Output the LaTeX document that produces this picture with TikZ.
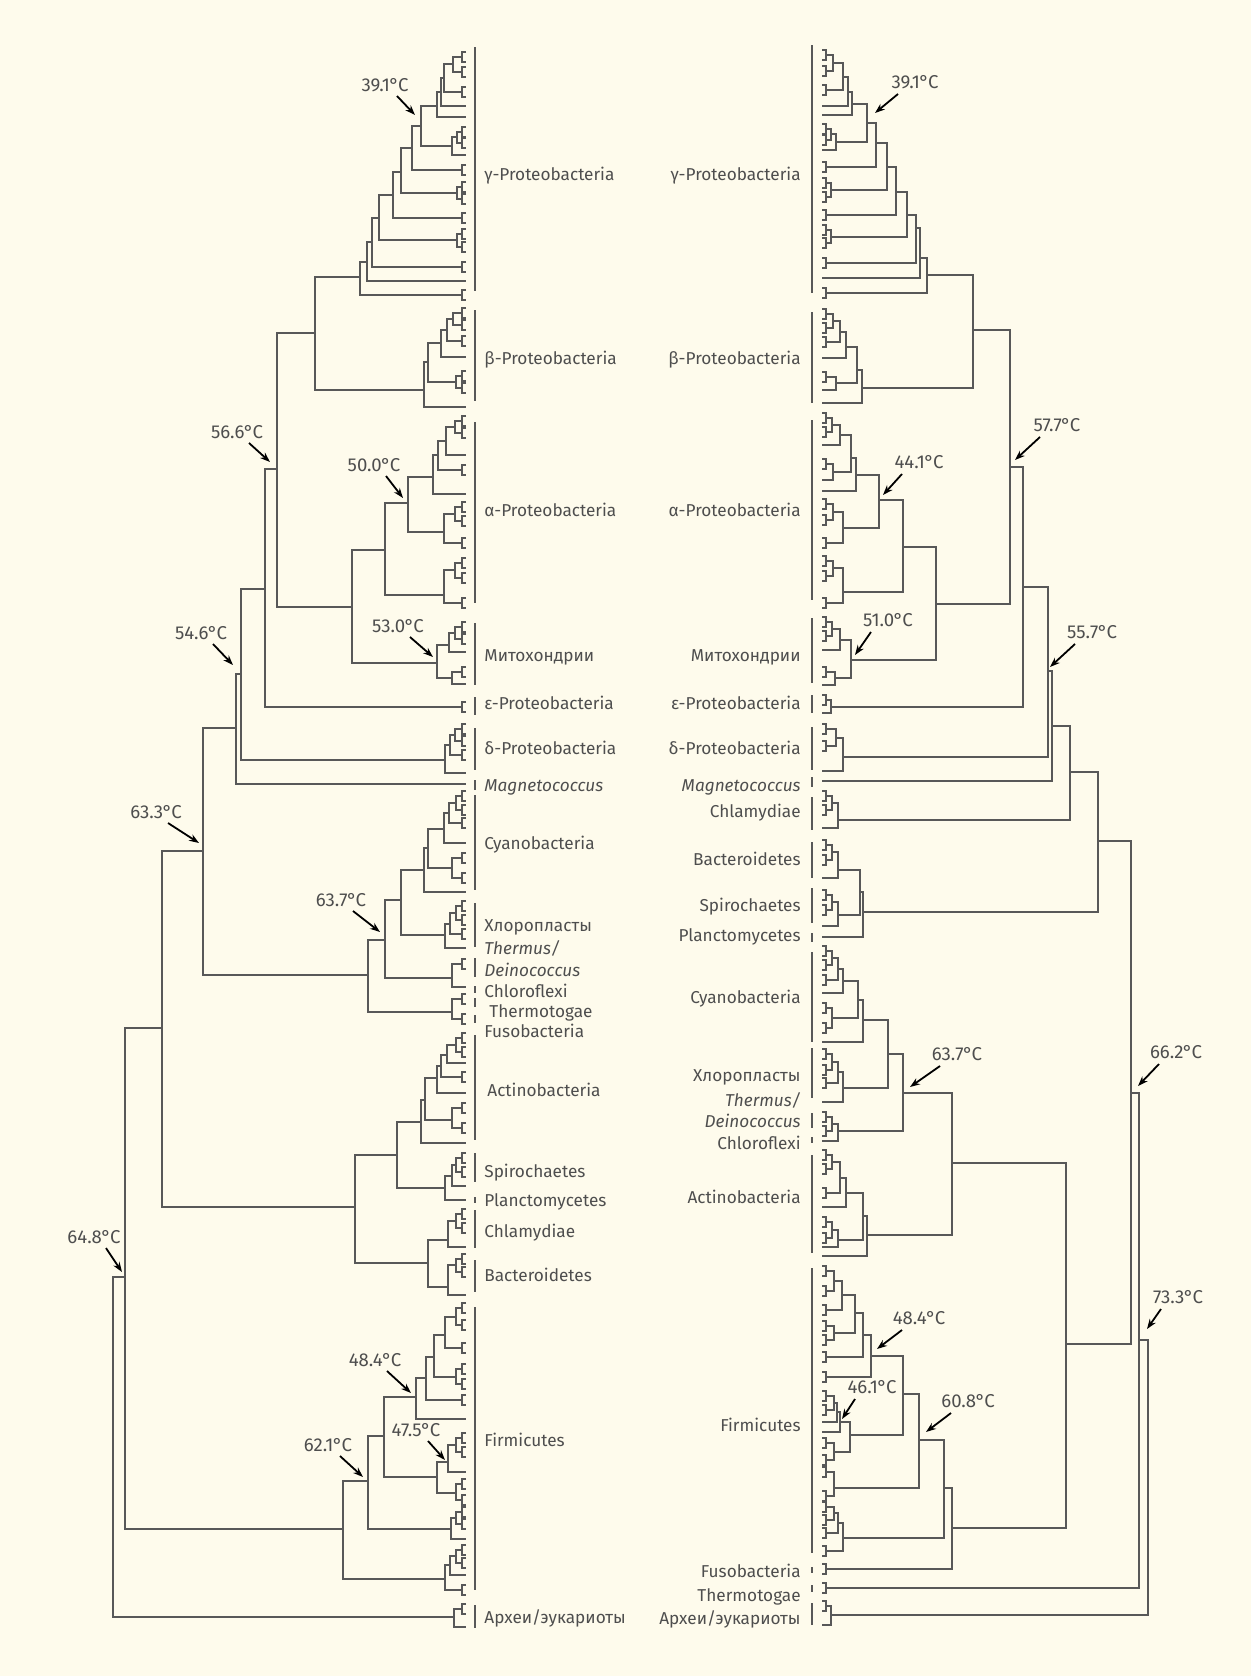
\documentclass[tikz,border=0pt]{standalone}
\usepackage{fontspec}
\setmainfont{Fira Sans}
\usepackage{tikz}
\usetikzlibrary{arrows.meta}
\definecolor{paper}{RGB}{254,251,236}
\definecolor{treeline}{RGB}{88,88,88}
\definecolor{inkgray}{RGB}{78,78,78}
\newcommand{\degc}{\kern-0.3pt°\kern-0.5pt C}

\begin{document}
\begin{tikzpicture}[x=0.5pt, y=-0.5pt, font=\fontsize{8.6}{10}\selectfont,
  >={Stealth[length=5pt,width=3.6pt]},
  branch/.style={draw=treeline, line width=0.7pt},
  leaf/.style={draw=treeline, line width=0.6pt},
  groupbar/.style={draw=treeline, line width=0.9pt},
  taxon/.style={text=inkgray, inner sep=0pt, text height=6.2pt, text depth=1.8pt},
  temp/.style={text=inkgray, inner sep=1pt, font=\fontsize{9.3}{11}\selectfont},
  tarrow/.style={->, draw=black, line width=0.9pt}]
  \fill[paper] (0,0) rectangle (1251,1676);
  \useasboundingbox (0,0) rectangle (1251,1676);

  % left tree: forks, parent x / child1 x / child1 y / child2 x / child2 y
  % gamma, beta
  \foreach \p/\a/\ya/\b/\yb in {453/462/57/462/72, 444/453/64/462/92, 441/444/78/466/106,
      437/441/92/466/117, 457/462/132/462/143, 452/457/137/466/155, 421/437/106/452/146,
      412/421/126/462/170, 457/462/187/462/199, 401/412/148/457/193, 393/401/172/462/218,
      457/462/234/462/247, 379/393/195/457/240, 372/379/218/462/267, 367/372/242/466/281,
      360/367/262/462/295, 453/462/313/462/325, 447/453/319/462/341, 441/447/330/466/357,
      456/462/376/462/388, 428/441/343/456/382, 424/428/362/466/407}
    \draw[branch] (\a,\ya) -| (\p,\yb) -- (\b,\yb);
  % backbone
  \foreach \p/\a/\ya/\b/\yb in {315/360/277/424/390, 277/315/333/352/607, 265/277/469/462/707,
      241/265/589/445/760, 236/241/674/466/784, 203/236/728/368/975, 162/203/851/355/1207,
      125/162/1028/343/1529, 113/125/1277/454/1617}
    \draw[branch] (\a,\ya) -| (\p,\yb) -- (\b,\yb);
  % alpha, mitochondria, delta
  \foreach \p/\a/\ya/\b/\yb in {352/385/550/437/663, 385/408/503/444/595, 408/433/477/444/532,
      455/462/421/462/433, 446/455/427/466/455, 438/446/441/462/470, 433/438/455/466/494,
      455/462/507/462/521, 444/455/514/462/543, 455/462/563/462/578, 444/455/570/462/603,
      455/462/627/462/639, 449/455/633/466/652, 452/462/672/466/684, 437/449/645/452/678,
      455/462/729/462/741, 450/455/735/462/755, 445/450/745/466/773}
    \draw[branch] (\a,\ya) -| (\p,\yb) -- (\b,\yb);
  % cyanobacteria, chloroplasts, thermus, thermotogae
  \foreach \p/\a/\ya/\b/\yb in {368/385/940/452/1012, 385/401/900/452/978, 401/424/870/445/935,
      456/462/796/462/810, 449/456/803/462/823, 444/449/813/466/843, 452/462/858/462/878,
      428/444/829/452/868, 424/428/848/466/892, 456/462/906/462/920, 450/456/913/462/934,
      445/450/924/466/948, 452/462/964/466/987, 452/462/999/462/1019}
    \draw[branch] (\a,\ya) -| (\p,\yb) -- (\b,\yb);
  % actinobacteria, spirochaetes, chlamydiae, bacteroidetes
  \foreach \p/\a/\ya/\b/\yb in {355/397/1155/428/1263, 397/421/1122/445/1188,
      456/462/1038/462/1052, 447/456/1045/466/1063, 441/447/1055/462/1077, 437/441/1066/466/1093,
      452/462/1108/462/1128, 425/437/1078/452/1120, 421/425/1100/466/1143,
      456/462/1158/462/1172, 452/456/1165/466/1186, 445/452/1176/466/1200,
      428/448/1240/448/1287, 456/462/1214/462/1228, 448/456/1221/466/1247,
      456/462/1259/462/1272, 448/456/1265/466/1295}
    \draw[branch] (\a,\ya) -| (\p,\yb) -- (\b,\yb);
  % firmicutes, archaea
  \foreach \p/\a/\ya/\b/\yb in {343/368/1481/445/1579, 368/384/1436/451/1529,
      456/462/1512/462/1524, 451/456/1518/466/1539, 384/416/1397/437/1477,
      456/462/1308/462/1325, 445/456/1317/462/1348, 456/462/1369/462/1384, 434/445/1335/456/1377,
      426/434/1357/462/1400, 416/426/1378/466/1419, 456/462/1438/462/1452, 448/456/1445/466/1472,
      456/462/1484/462/1500, 437/448/1462/456/1493, 456/462/1550/462/1563, 450/456/1556/466/1575,
      445/450/1565/462/1590, 454/462/1609/466/1627}
    \draw[branch] (\a,\ya) -| (\p,\yb) -- (\b,\yb);
  % left leaf brackets
  \foreach \y in {57,72,92,132,143,170,187,199,218,234,247,267,295,313,325,341,376,388,
      421,433,470,507,521,543,563,578,603,627,639,672,707,729,741,755,796,810,823,858,878,
      906,920,934,964,999,1019,1038,1052,1077,1108,1128,1158,1172,1214,1228,1259,1272,
      1308,1325,1348,1369,1384,1400,1438,1452,1484,1500,1512,1524,1550,1563,1590,1609}
    \draw[leaf] (466,\y-5) -| (462,\y+5) -- (466,\y+5);
  % left group bars
  \foreach \a/\b in {47/291, 310/401, 422/603, 623/685, 697/715, 728/770, 780/790, 795/890,
      903/947, 958/977, 986/993, 998/1007, 1015/1023, 1035/1140, 1153/1182, 1197/1203,
      1210/1248, 1260/1292, 1307/1590, 1605/1628}
    \draw[groupbar] (475,\a) -- (475,\b);

  % right tree: gamma, beta
  \foreach \p/\a/\ya/\b/\yb in {833/826/55/826/71, 843/833/63/826/90, 848/843/77/822/106,
      852/848/92/822/115, 831/826/129/826/140, 836/831/134/822/150, 867/852/104/836/142,
      876/867/123/826/167, 831/826/183/826/197, 887/876/143/831/190, 896/887/167/826/215,
      831/826/230/826/243, 907/896/192/831/237, 916/907/215/826/263, 920/916/228/822/278,
      927/920/258/826/293, 833/826/314/826/328, 840/833/321/826/342, 846/840/332/822/358,
      836/826/377/822/390, 857/846/347/836/383, 862/857/370/822/403}
    \draw[branch] (\a,\ya) -| (\p,\yb) -- (\b,\yb);
  % backbone
  \foreach \p/\a/\ya/\b/\yb in {973/927/275/862/388, 1010/973/330/936/604, 1023/1010/467/831/707,
      1048/1023/587/843/757, 1052/1048/671/822/781, 1070/1052/726/838/820, 1098/1070/772/863/912,
      1131/1098/841/1066/1344, 1139/1131/1093/826/1588, 1148/1139/1340/831/1615,
      1066/952/1163/952/1528, 831/826/700/822/713, 831/826/1606/822/1625}
    \draw[branch] (\a,\ya) -| (\p,\yb) -- (\b,\yb);
  % alpha, mitochondria, delta
  \foreach \p/\a/\ya/\b/\yb in {936/903/547/851/660, 903/879/500/843/592, 879/856/475/843/528,
      832/826/418/826/432, 840/832/425/822/445, 833/826/464/822/480, 851/840/435/833/472,
      856/851/458/822/491, 833/826/504/826/520, 843/833/512/826/543, 833/826/561/826/576,
      843/833/568/826/603, 832/826/622/826/636, 840/832/629/822/650, 835/826/672/822/685,
      851/840/640/835/678, 836/826/729/826/746, 843/836/738/822/771}
    \draw[branch] (\a,\ya) -| (\p,\yb) -- (\b,\yb);
  % chlamydiae, bacteroidetes, spirochaetes, planctomycetes
  \foreach \p/\a/\ya/\b/\yb in {832/826/796/826/810, 838/832/803/822/828, 832/826/845/826/860,
      838/832/852/822/878, 832/826/895/826/910, 838/832/902/822/926, 860/838/870/838/915,
      863/860/892/822/937}
    \draw[branch] (\a,\ya) -| (\p,\yb) -- (\b,\yb);
  % cyanobacteria, chloroplasts, thermus, actinobacteria
  \foreach \p/\a/\ya/\b/\yb in {952/903/1093/867/1235, 903/888/1054/838/1131, 888/863/1020/843/1088,
      832/826/951/826/965, 838/832/958/826/980, 843/838/969/822/993, 832/826/1008/826/1028,
      858/843/981/832/1018, 863/858/1000/822/1042, 832/826/1054/826/1070, 838/832/1062/826/1083,
      843/838/1072/822/1102, 832/826/1117/826/1131, 838/832/1124/822/1141,
      832/826/1155/826/1169, 840/832/1162/826/1193, 846/840/1178/822/1207,
      832/826/1222/826/1238, 838/832/1230/822/1247, 863/846/1193/838/1240, 867/863/1216/822/1256}
    \draw[branch] (\a,\ya) -| (\p,\yb) -- (\b,\yb);
  % firmicutes, fusobacteria
  \foreach \p/\a/\ya/\b/\yb in {952/944/1488/826/1569, 944/919/1440/843/1538, 919/903/1394/834/1488,
      903/871/1356/850/1435, 834/826/1271/826/1291, 842/834/1281/826/1310, 834/826/1326/826/1340,
      855/842/1295/834/1333, 863/855/1313/826/1357, 871/863/1335/826/1377, 834/826/1396/826/1410,
      837/834/1403/822/1422, 840/837/1412/822/1432, 834/826/1443/826/1460, 850/840/1422/834/1452,
      834/826/1472/826/1496, 834/826/1507/826/1520, 838/834/1513/826/1533, 843/838/1523/826/1551}
    \draw[branch] (\a,\ya) -| (\p,\yb) -- (\b,\yb);
  % right leaf brackets
  \foreach \y in {55,71,90,129,140,167,183,197,215,230,243,263,293,314,328,342,377,
      418,432,464,504,520,543,561,576,603,622,636,672,700,729,746,796,810,845,860,895,910,
      951,965,980,1008,1028,1054,1070,1083,1117,1131,1155,1169,1193,1222,1238,
      1271,1291,1310,1326,1340,1357,1377,1396,1410,1443,1460,1472,1496,1507,1520,1533,1551,
      1569,1588,1606}
    \draw[leaf] (822,\y-5) -| (826,\y+5) -- (822,\y+5);
  % right group bars
  \foreach \a/\b in {45/293, 312/403, 420/600, 618/683, 695/713, 727/770, 777/787, 797/830,
      842/878, 888/923, 933/942, 952/1042, 1048/1098, 1113/1128, 1137/1143, 1155/1253,
      1268/1553, 1567/1573, 1585/1592, 1603/1625}
    \draw[groupbar] (812,\a) -- (812,\b);

  % left group names
  \node[taxon, anchor=west] (gamL) at (484,176) {γ-Proteobacteria};
  \node[taxon, anchor=west] (betL) at (484,360) {β-Proteobacteria};
  \node[taxon, anchor=west] (alpL) at (484,512) {α-Proteobacteria};
  \node[taxon, anchor=west] (mitL) at (484,657) {Митохондрии};
  \node[taxon, anchor=west] (epsL) at (484,705) {ε-Proteobacteria};
  \node[taxon, anchor=west] (delL) at (484,750) {δ-Proteobacteria};
  \node[taxon, anchor=west] (magL) at (484,787) {\itshape Magnetococcus};
  \node[taxon, anchor=west] (cyaL) at (484,845) {Cyanobacteria};
  \node[taxon, anchor=west] (chlL) at (484,927) {Хлоропласты};
  \node[taxon, anchor=west] (theL) at (484,950) {\itshape Thermus/};
  \node[taxon, anchor=west] (deiL) at (484,972) {\itshape Deinococcus};
  \node[taxon, anchor=west] (cflL) at (484,993) {Chloroflexi};
  \node[taxon, anchor=west] (tgaL) at (489,1013) {Thermotogae};
  \node[taxon, anchor=west] (fusL) at (484,1033) {Fusobacteria};
  \node[taxon, anchor=west] (actL) at (487,1092) {Actinobacteria};
  \node[taxon, anchor=west] (spiL) at (484,1173) {Spirochaetes};
  \node[taxon, anchor=west] (plaL) at (484,1202) {Planctomycetes};
  \node[taxon, anchor=west] (chyL) at (484,1233) {Chlamydiae};
  \node[taxon, anchor=west] (bacL) at (484,1277) {Bacteroidetes};
  \node[taxon, anchor=west] (firL) at (484,1442) {Firmicutes};
  \node[taxon, anchor=west] (arcL) at (484,1619) {Археи/эукариоты};
  % right group names
  \node[taxon, anchor=east] (gamR) at (801,176) {γ-Proteobacteria};
  \node[taxon, anchor=east] (betR) at (801,360) {β-Proteobacteria};
  \node[taxon, anchor=east] (alpR) at (801,512) {α-Proteobacteria};
  \node[taxon, anchor=east] (mitR) at (801,657) {Митохондрии};
  \node[taxon, anchor=east] (epsR) at (801,705) {ε-Proteobacteria};
  \node[taxon, anchor=east] (delR) at (801,750) {δ-Proteobacteria};
  \node[taxon, anchor=east] (magR) at (801,787) {\itshape Magnetococcus};
  \node[taxon, anchor=east] (chyR) at (801,813) {Chlamydiae};
  \node[taxon, anchor=east] (bacR) at (801,861) {Bacteroidetes};
  \node[taxon, anchor=east] (spiR) at (801,907) {Spirochaetes};
  \node[taxon, anchor=east] (plaR) at (801,937) {Planctomycetes};
  \node[taxon, anchor=east] (cyaR) at (801,999) {Cyanobacteria};
  \node[taxon, anchor=east] (chlR) at (801,1077) {Хлоропласты};
  \node[taxon, anchor=east] (theR) at (801,1102) {\itshape Thermus/};
  \node[taxon, anchor=east] (deiR) at (801,1123) {\itshape Deinococcus};
  \node[taxon, anchor=east] (cflR) at (801,1145) {Chloroflexi};
  \node[taxon, anchor=east] (actR) at (801,1199) {Actinobacteria};
  \node[taxon, anchor=east] (firR) at (801,1427) {Firmicutes};
  \node[taxon, anchor=east] (fusR) at (801,1573) {Fusobacteria};
  \node[taxon, anchor=east] (tgaR) at (801,1597) {Thermotogae};
  \node[taxon, anchor=east] (arcR) at (801,1620) {Археи/эукариоты};

  % temperatures, left tree
  \node[temp] (t391L) at (385,85) {39.1\degc};
  \node[temp] (t566) at (237,432) {56.6\degc};
  \node[temp] (t500) at (374,465) {50.0\degc};
  \node[temp] (t530) at (398,626) {53.0\degc};
  \node[temp] (t546) at (201,633) {54.6\degc};
  \node[temp] (t633) at (156,812) {63.3\degc};
  \node[temp] (t637L) at (341,900) {63.7\degc};
  \node[temp] (t648) at (94,1237) {64.8\degc};
  \node[temp] (t484L) at (375,1360) {48.4\degc};
  \node[temp] (t475) at (416,1430) {47.5\degc};
  \node[temp] (t621) at (328,1445) {62.1\degc};
  \coordinate (a391L) at (415,115);
  \coordinate (a566) at (270,462);
  \coordinate (a500) at (403,498);
  \coordinate (a530) at (433,657);
  \coordinate (a546) at (233,665);
  \coordinate (a633) at (199,843);
  \coordinate (a637L) at (380,932);
  \coordinate (a648) at (122,1272);
  \coordinate (a484L) at (411,1393);
  \coordinate (a475) at (445,1460);
  \coordinate (a621) at (363,1477);
  \foreach \t in {391L,566,500,530,546,633,637L,648,484L,475,621}
    \draw[tarrow] ([shift={(12,11)}]t\t.center) -- (a\t);
  % temperatures, right tree
  \node[temp] (t391R) at (915,82) {39.1\degc};
  \node[temp] (t577) at (1057,425) {57.7\degc};
  \node[temp] (t441) at (919,462) {44.1\degc};
  \node[temp] (t510) at (888,620) {51.0\degc};
  \node[temp] (t557) at (1092,632) {55.7\degc};
  \node[temp] (t637R) at (957,1054) {63.7\degc};
  \node[temp] (t662) at (1176,1052) {66.2\degc};
  \node[temp] (t733) at (1178,1297) {73.3\degc};
  \node[temp] (t484R) at (919,1318) {48.4\degc};
  \node[temp] (t461) at (872,1387) {46.1\degc};
  \node[temp] (t608) at (968,1401) {60.8\degc};
  \coordinate (a391R) at (875,113);
  \coordinate (a577) at (1015,460);
  \coordinate (a441) at (883,495);
  \coordinate (a510) at (855,655);
  \coordinate (a557) at (1050,667);
  \coordinate (a637R) at (910,1087);
  \coordinate (a662) at (1138,1086);
  \coordinate (a733) at (1147,1329);
  \coordinate (a484R) at (877,1349);
  \coordinate (a461) at (842,1419);
  \coordinate (a608) at (926,1432);
  \foreach \t in {391R,577,441,510,557,637R,662,733,484R,461,608}
    \draw[tarrow] ([shift={(-17,12)}]t\t.center) -- (a\t);
\end{tikzpicture}
\end{document}
